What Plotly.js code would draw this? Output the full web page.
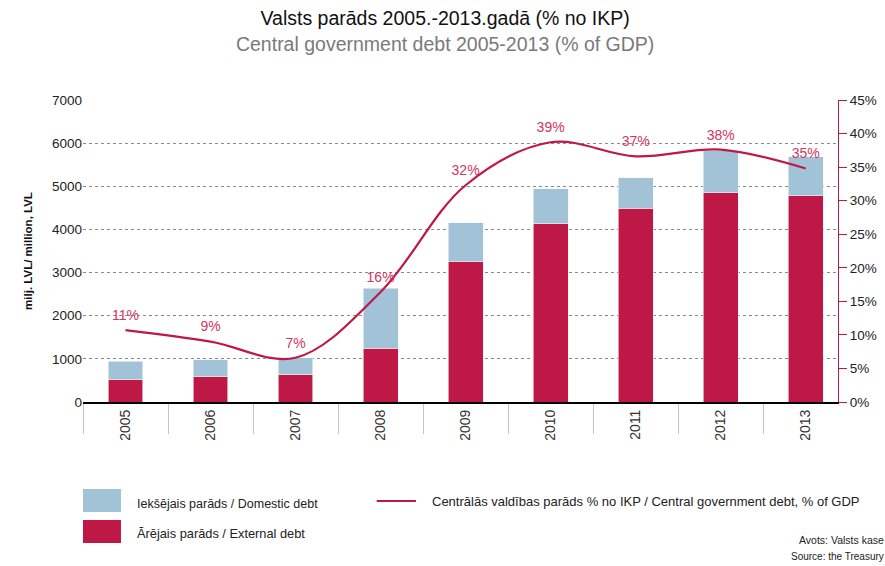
<!DOCTYPE html>
<html>
<head>
<meta charset="utf-8">
<script src="https://cdn.plot.ly/plotly-3.0.1.min.js"></script>
<style>html,body{margin:0;padding:0;background:#fff;}#chart{width:885px;height:566px;}</style>
</head>
<body>
<div id="chart"></div>
<script>
const years = ['2005','2006','2007','2008','2009','2010','2011','2012','2013'];
const externalDebt = [520, 580, 630, 1250, 3250, 4130, 4490, 4850, 4780];
const domesticDebt = [430, 400, 400, 1390, 910, 810, 710, 970, 900];
const debtPctGDP = [10.7, 9.0, 6.6, 16.4, 32.3, 38.7, 36.6, 37.6, 34.8];

const nameDomestic = 'Iekšējais parāds / Domestic debt';
const nameExternal = 'Ārējais parāds / External debt';
const nameLine = 'Centrālās valdības parāds % no IKP / Central government debt, % of GDP';

const FONT = 'Liberation Sans, Arial, Helvetica, sans-serif';
const RED = '#be1846';
const BLUE = '#a2c3d7';

const traces = [
  {type:'bar', x:years, y:externalDebt, name:nameExternal, marker:{color:RED, line:{color:'#f4f4f4', width:0.6}}, width:0.41, showlegend:false},
  {type:'bar', x:years, y:domesticDebt, name:nameDomestic, marker:{color:BLUE, line:{color:'#f4f4f4', width:0.6}}, width:0.41, showlegend:false},
  {type:'scatter', mode:'lines+markers+text', x:years, y:debtPctGDP, yaxis:'y2', name:nameLine,
   line:{color:RED, width:2.2, shape:'spline', smoothing:1},
   marker:{size:9, color:RED, opacity:0},
   text:debtPctGDP.map(v => Math.round(v) + '%'), textposition:'top center',
   textfont:{family:FONT, size:14, color:'#d2365f'}, cliponaxis:false, showlegend:false, hoverinfo:'skip'}
];

const layout = {
  width:885, height:566,
  margin:{l:83, r:47, t:100, b:164},
  paper_bgcolor:'#fff', plot_bgcolor:'#fff',
  barmode:'stack',
  font:{family:FONT, size:13, color:'#222'},
  title:{text:'<span style="color:#111">Valsts parāds 2005.-2013.gadā (% no IKP)</span><br><span style="color:#7a7a7a">Central government debt 2005-2013 (% of GDP)</span>',
         font:{family:FONT, size:19.5, color:'#111'},
         x:0.503, xanchor:'center', yref:'container', y:0.955, yanchor:'top'},
  xaxis:{type:'category', range:[-0.5, 8.38], tickangle:-90, tickson:'boundaries', ticks:'outside', ticklen:30,
         tickcolor:'#c4c4c4', tickwidth:1, showline:true, linecolor:'#000', linewidth:2,
         tickfont:{family:FONT, size:14, color:'#333'}, showgrid:false, zeroline:false},
  yaxis:{range:[0,7000], dtick:1000, showgrid:true, gridcolor:'#8a8a8a', griddash:'dot', gridwidth:1,
         zeroline:false, showline:false, ticks:'', tickfont:{family:FONT, size:13.5, color:'#222'},
         title:{text:'<b>milj. LVL/ million, LVL</b>', font:{family:FONT, size:11.5, color:'#111'}, standoff:16}},
  yaxis2:{overlaying:'y', side:'right', range:[0,45], dtick:5, ticksuffix:'%', showgrid:false, zeroline:false,
          showline:true, linecolor:RED, linewidth:1, ticks:'outside', tickcolor:RED, ticklen:8,
          tickfont:{family:FONT, size:13.5, color:'#222'}},
  shapes:[
    {type:'rect', xref:'paper', yref:'paper', x0:0, x1:0.0503, y0:-0.364, y1:-0.288, fillcolor:BLUE, line:{width:0}},
    {type:'rect', xref:'paper', yref:'paper', x0:0, x1:0.0503, y0:-0.467, y1:-0.391, fillcolor:RED, line:{width:0}},
    {type:'line', xref:'paper', yref:'paper', x0:0.389, x1:0.441, y0:-0.328, y1:-0.328, line:{color:RED, width:2}}
  ],
  annotations:[
    {xref:'paper', yref:'paper', x:0.0689, y:-0.338, xanchor:'left', yanchor:'middle', showarrow:false, text:nameDomestic, font:{family:FONT, size:12.5, color:'#222'}},
    {xref:'paper', yref:'paper', x:0.0689, y:-0.437, xanchor:'left', yanchor:'middle', showarrow:false, text:nameExternal, font:{family:FONT, size:12.8, color:'#222'}},
    {xref:'paper', yref:'paper', x:0.4596, y:-0.331, xanchor:'left', yanchor:'middle', showarrow:false, text:nameLine, font:{family:FONT, size:13, color:'#222'}},
    {xref:'paper', yref:'paper', x:1.064, y:-0.457, xanchor:'right', yanchor:'middle', showarrow:false, text:'Avots: Valsts kase', font:{family:FONT, size:10.5, color:'#222'}},
    {xref:'paper', yref:'paper', x:1.064, y:-0.510, xanchor:'right', yanchor:'middle', showarrow:false, text:'Source: the Treasury', font:{family:FONT, size:10, color:'#222'}}
  ]
};

Plotly.newPlot('chart', traces, layout, {displayModeBar:false, responsive:false});
</script>
</body>
</html>
